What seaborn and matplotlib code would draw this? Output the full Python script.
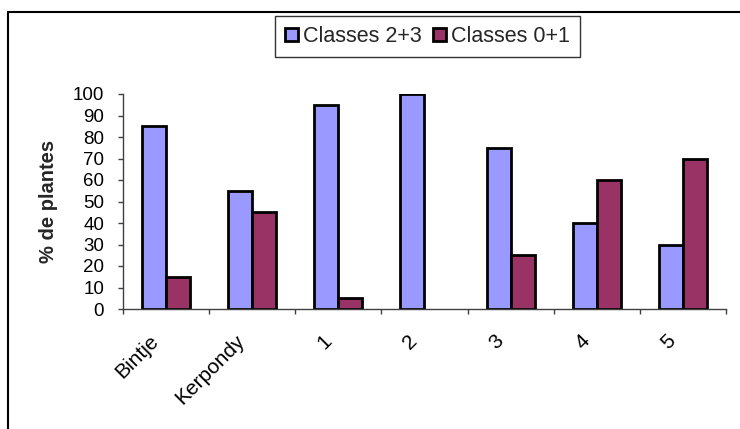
import matplotlib
matplotlib.use("Agg")
import matplotlib.pyplot as plt
from matplotlib.transforms import ScaledTranslation
from matplotlib.lines import Line2D
import seaborn as sns
import pandas as pd
import numpy as np

categories = ["Bintje", "Kerpondy", "1", "2", "3", "4", "5"]
classes_23 = [85, 55, 95, 100, 75, 40, 30]
classes_01 = [15, 45, 5, 0, 25, 60, 70]
series_names = ["Classes 2+3", "Classes 0+1"]
colors = ["#9999FF", "#993366"]

df = pd.DataFrame({
    "cat": categories * 2,
    "val": classes_23 + classes_01,
    "serie": [series_names[0]] * len(categories) + [series_names[1]] * len(categories),
})

sns.set_theme(style="white")
plt.rcParams["font.family"] = ["Liberation Sans", "DejaVu Sans"]

fig = plt.figure(figsize=(7.4, 4.29), dpi=100)
ax = fig.add_axes([123 / 740, 1 - 309 / 429, (726 - 123) / 740, (309 - 94) / 429])

sns.barplot(data=df, x="cat", y="val", hue="serie", order=categories,
            hue_order=series_names, palette=colors, width=0.56, saturation=1,
            edgecolor="black", linewidth=2.0, ax=ax, legend=False)
for p in ax.patches:
    if p.get_height() == 0:
        p.set_visible(False)

ax.set_ylim(0, 100)
ax.set_xlim(-0.5, len(categories) - 0.5)
ax.set_yticks(np.arange(0, 101, 10))
ax.set_ylabel("")
ax.set_xlabel("")
for s in ["top", "right"]:
    ax.spines[s].set_visible(False)
for s in ["left", "bottom"]:
    ax.spines[s].set_color("#404040")
    ax.spines[s].set_linewidth(1.0)

ax.tick_params(axis="y", which="major", length=3.6, width=1, color="#404040",
               pad=10, labelsize=13.5, labelcolor="black", left=True)
ax.set_xticks(np.arange(-0.5, len(categories), 1), minor=True)
ax.tick_params(axis="x", which="minor", length=3.6, width=1, color="#404040", bottom=True)
ax.tick_params(axis="x", which="major", length=0, pad=21, labelsize=15, labelcolor="black")
ax.set_xticks(range(len(categories)))
ax.set_xticklabels(categories, rotation=45, ha="right", va="center", rotation_mode="anchor")
offset = ScaledTranslation(-10 / 100, 0, fig.dpi_scale_trans)
for lab in ax.get_xticklabels():
    lab.set_transform(lab.get_transform() + offset)

fig.text(48 / 740, 1 - 201 / 429, "% de plantes", rotation=90, fontsize=14.5,
         fontweight="bold", ha="center", va="center")

handles = [plt.Rectangle((0, 0), 1, 1, facecolor=c, edgecolor="black", linewidth=2.0)
           for c in colors]
leg = fig.legend(handles, series_names, loc="center", bbox_to_anchor=(427.5 / 740, 1 - 36.5 / 429),
                 ncol=2, fontsize=15.5, frameon=True, fancybox=False, handlelength=0.6,
                 handleheight=0.6, handletextpad=0.25, columnspacing=0.5, borderpad=0.45,
                 borderaxespad=0)
leg.get_frame().set_edgecolor("black")
leg.get_frame().set_linewidth(1.0)

fig.add_artist(Line2D([8 / 740, 1.0], [1 - 12 / 429] * 2, transform=fig.transFigure,
                      color="black", linewidth=1.5))
fig.add_artist(Line2D([8 / 740] * 2, [0.0, 1 - 12 / 429], transform=fig.transFigure,
                      color="black", linewidth=1.5))

fig.savefig("out.png", dpi=100)
